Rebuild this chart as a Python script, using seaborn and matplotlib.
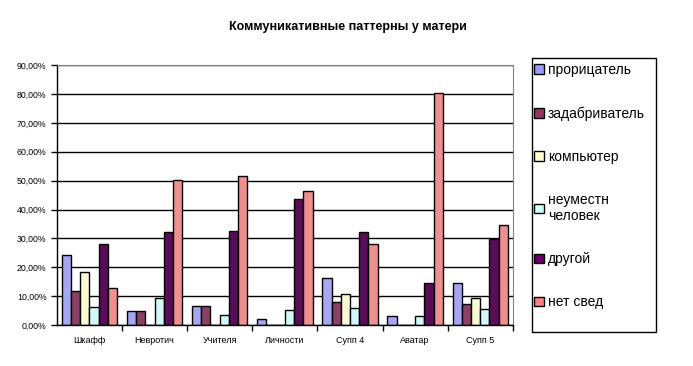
import numpy as np
import pandas as pd
import matplotlib
matplotlib.use("Agg")
import matplotlib.pyplot as plt
import seaborn as sns
from matplotlib.ticker import FuncFormatter, MultipleLocator

# categories and series
categories = ["Шкафф", "Невротич", "Учителя", "Личности", "Супп 4", "Аватар", "Супп 5"]
series = ["прорицатель", "задабриватель", "компьютер", "неуместн\nчеловек", "другой", "нет свед"]

proricatel = [24.1, 4.7, 6.7, 2.2, 16.2, 3.0, 14.4]
zadabrivatel = [11.7, 4.7, 6.7, 0.0, 7.9, 0.0, 7.2]
kompyuter = [18.2, 0.0, 0.0, 0.0, 10.6, 0.0, 9.2]
neumestn = [6.1, 9.2, 3.4, 5.1, 5.8, 3.0, 5.5]
drugoy = [27.9, 32.1, 32.4, 43.8, 32.1, 14.4, 29.7]
net_sved = [12.7, 50.1, 51.7, 46.3, 27.9, 80.2, 34.8]

colors = ["#9999FF", "#993366", "#FFFFCC", "#CCFFFF", "#660066", "#FF8080"]

values = [proricatel, zadabrivatel, kompyuter, neumestn, drugoy, net_sved]
rows = []
for s, vals in zip(series, values):
    for c, v in zip(categories, vals):
        rows.append({"category": c, "series": s, "value": v})
df = pd.DataFrame(rows)

plt.rcParams["font.family"] = ["Liberation Sans", "DejaVu Sans"]

fig = plt.figure(figsize=(6.93, 3.66), dpi=100)
ax = fig.add_axes([0.082, 0.112, 0.658, 0.71])

sns.barplot(data=df, x="category", y="value", hue="series", order=categories,
            hue_order=series, palette=colors, width=0.85, edgecolor="black",
            linewidth=1.0, ax=ax, legend=False)

ax.set_ylim(0, 90)
ax.yaxis.set_major_locator(MultipleLocator(10))
ax.yaxis.set_major_formatter(FuncFormatter(lambda v, p: f"{v:.2f}%".replace(".", ",")))
ax.grid(axis="y", color="black", linewidth=1.0)
ax.set_axisbelow(True)
ax.set_xlim(-0.5, len(categories) - 0.5)
ax.set_xlabel("")
ax.set_ylabel("")

ax.tick_params(axis="y", labelsize=6.3, length=4, direction="out", width=1)
ax.tick_params(axis="x", which="major", labelsize=6.5, length=0, pad=8)
ax.set_xticks(np.arange(len(categories)) + 0.5, minor=True)
ax.tick_params(axis="x", which="minor", length=4, width=1, direction="out")

for side in ["top", "right"]:
    ax.spines[side].set_color("#808080")
for side in ["left", "bottom"]:
    ax.spines[side].set_color("black")
    ax.spines[side].set_linewidth(1.0)

fig.text(0.502, 0.925, "Коммуникативные паттерны у матери", ha="center",
         va="center", fontsize=9, fontweight="bold")

# legend box drawn separately (it is taller than its entries)
fig.patches.append(plt.Rectangle((0.7677, 0.0929), 0.1789, 0.7486,
                                 transform=fig.transFigure, facecolor="white",
                                 edgecolor="black", linewidth=1.0))

handles = [plt.Rectangle((0, 0), 1, 1, facecolor=c, edgecolor="black", linewidth=1)
           for c in colors]
leg = fig.legend(handles, series, loc="upper left", bbox_to_anchor=(0.771, 0.828),
                 fontsize=10, frameon=False, handlelength=0.7,
                 handleheight=0.7, handletextpad=0.3, labelspacing=2.1,
                 borderpad=0, borderaxespad=0)

fig.savefig("out.png", dpi=100)
